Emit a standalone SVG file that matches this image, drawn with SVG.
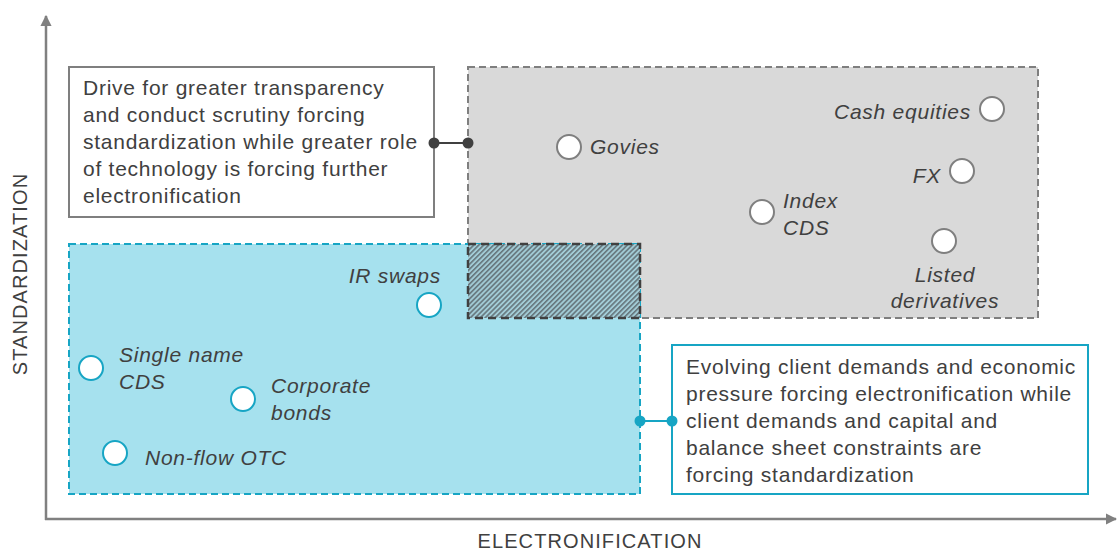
<svg xmlns="http://www.w3.org/2000/svg" width="1120" height="552" viewBox="0 0 1120 552">
<style>
.t{font-family:"Liberation Sans",Arial,sans-serif;font-size:21px;letter-spacing:0.75px;fill:#404040}
.i{font-style:italic}
.ax{font-family:"Liberation Sans",Arial,sans-serif;font-size:20px;letter-spacing:1.1px;fill:#404040}
.cg{fill:#fff;stroke:#7f7f7f;stroke-width:2}
.cb{fill:#fff;stroke:#17a5c4;stroke-width:2}
</style>
<defs>
<marker id="ah" viewBox="0 0 10 10" refX="9" refY="5" markerWidth="4.5" markerHeight="4.5" orient="auto" markerUnits="strokeWidth"><path d="M0 0L10 5L0 10Z" fill="#808080"/></marker>
<pattern id="hatch" width="3.5" height="3.5" patternUnits="userSpaceOnUse" patternTransform="rotate(-45)">
<rect width="3.5" height="3.5" fill="#a2ccd6"/>
<rect width="3.5" height="1.6" fill="#66767c"/>
</pattern>
</defs>
<g id="axes">
<line x1="46" y1="520" x2="46" y2="16" stroke="#808080" stroke-width="2.5" marker-end="url(#ah)"/>
<line x1="45" y1="519" x2="1116" y2="519" stroke="#808080" stroke-width="2.5" marker-end="url(#ah)"/>
<text class="ax" x="590" y="548" text-anchor="middle">ELECTRONIFICATION</text>
<text class="ax" transform="translate(27 274) rotate(-90)" text-anchor="middle">STANDARDIZATION</text>
</g>
<g id="grey-zone"><rect x="468" y="67" width="570" height="251" fill="#d9d9d9" stroke="#7f7f7f" stroke-width="2" stroke-dasharray="7 4"/></g>
<g id="blue-zone"><rect x="69" y="244" width="571" height="250" fill="#a6e1ee" stroke="#17a5c4" stroke-width="2" stroke-dasharray="7 4"/></g>
<g id="overlap"><rect x="468" y="244" width="172" height="74" fill="url(#hatch)" stroke="#404040" stroke-width="2.5" stroke-dasharray="8 5"/></g>
<g id="note-top">
<rect x="69" y="67" width="365" height="150" fill="#fff" stroke="#7f7f7f" stroke-width="2"/>
<text class="t"><tspan x="83" y="95">Drive for greater transparency</tspan><tspan x="83" y="122">and conduct scrutiny forcing</tspan><tspan x="83" y="149">standardization while greater role</tspan><tspan x="83" y="176">of technology is forcing further</tspan><tspan x="83" y="203">electronification</tspan></text>
</g>
<g id="note-bottom">
<rect x="672" y="345" width="416" height="149" fill="#fff" stroke="#17a5c4" stroke-width="2"/>
<text class="t"><tspan x="686" y="374">Evolving client demands and economic</tspan><tspan x="686" y="401">pressure forcing electronification while</tspan><tspan x="686" y="428">client  demands and capital and</tspan><tspan x="686" y="455">balance sheet constraints are</tspan><tspan x="686" y="482">forcing standardization</tspan></text>
</g>
<g id="connectors">
<line x1="434" y1="143" x2="468" y2="143" stroke="#404040" stroke-width="2"/>
<circle cx="434" cy="143" r="5.5" fill="#404040"/>
<circle cx="468" cy="143" r="5.5" fill="#404040"/>
<line x1="640" y1="421" x2="672" y2="421" stroke="#17a5c4" stroke-width="2"/>
<circle cx="640" cy="421" r="5.5" fill="#17a5c4"/>
<circle cx="672" cy="421" r="5.5" fill="#17a5c4"/>
</g>
<g id="govies"><circle class="cg" cx="569" cy="147" r="12"/><text class="t i" x="590" y="154">Govies</text></g>
<g id="cash-equities"><circle class="cg" cx="992" cy="109" r="12"/><text class="t i" x="971" y="119" text-anchor="end">Cash equities</text></g>
<g id="fx"><circle class="cg" cx="962" cy="171" r="12"/><text class="t i" x="941" y="183" text-anchor="end">FX</text></g>
<g id="index-cds"><circle class="cg" cx="762" cy="212" r="12"/><text class="t i"><tspan x="783" y="208">Index</tspan><tspan x="783" y="235">CDS</tspan></text></g>
<g id="listed-derivatives"><circle class="cg" cx="944" cy="241" r="12"/><text class="t i" text-anchor="middle"><tspan x="945" y="282">Listed</tspan><tspan x="945" y="308">derivatives</tspan></text></g>
<g id="ir-swaps"><circle class="cb" cx="429" cy="305" r="12"/><text class="t i" x="441" y="283" text-anchor="end">IR swaps</text></g>
<g id="single-name-cds"><circle class="cb" cx="91" cy="368" r="12"/><text class="t i"><tspan x="119" y="362">Single name</tspan><tspan x="119" y="389">CDS</tspan></text></g>
<g id="corporate-bonds"><circle class="cb" cx="243" cy="399" r="12"/><text class="t i"><tspan x="271" y="393">Corporate</tspan><tspan x="271" y="420">bonds</tspan></text></g>
<g id="non-flow-otc"><circle class="cb" cx="115" cy="453" r="12"/><text class="t i" x="145" y="465">Non-flow OTC</text></g>
</svg>
